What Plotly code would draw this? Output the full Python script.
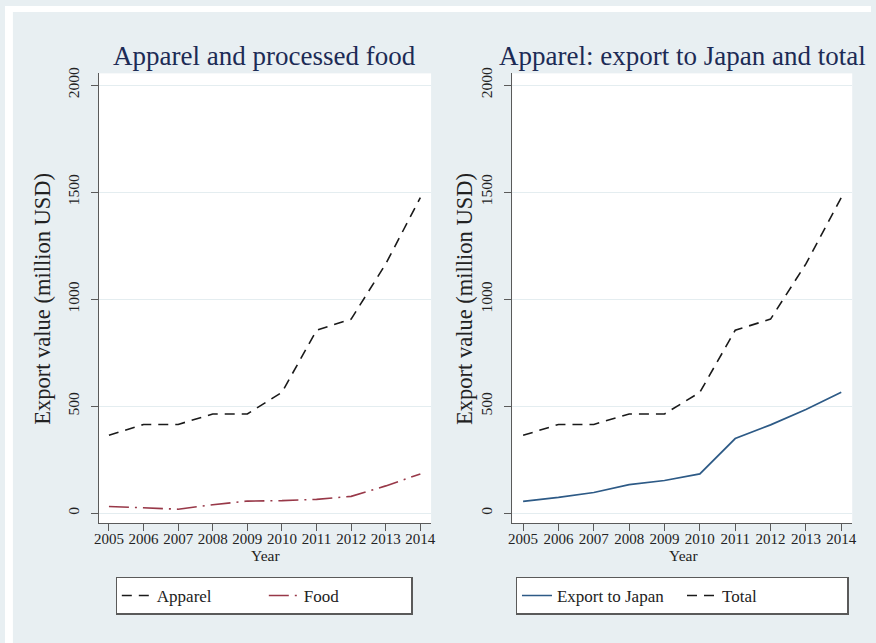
import plotly.graph_objects as go

years = [2005, 2006, 2007, 2008, 2009, 2010, 2011, 2012, 2013, 2014]
apparel = [364, 415, 415, 464, 464, 565, 855, 907, 1165, 1475]
food = [32, 25, 19, 40, 57, 59, 65, 79, 128, 184]
japan = [56, 74, 97, 134, 153, 184, 349, 413, 485, 565]
total = apparel

panel_titles = ["Apparel and processed food", "Apparel: export to Japan and total"]
y_title = "Export value (million USD)"
x_title = "Year"
y_ticks = [0, 500, 1000, 1500, 2000]

W, H = 876, 643
FONT = "Liberation Serif"
BG = "#e8eff2"
AX = "#5a5a5a"
TITLE_C = "#1c2b55"

fig = go.Figure()
fig.add_trace(go.Scatter(x=years, y=apparel, mode="lines", name="Apparel",
                         line=dict(color="#1a1a1a", width=1.6, dash="10px,7px"),
                         xaxis="x", yaxis="y", legend="legend"))
fig.add_trace(go.Scatter(x=years, y=food, mode="lines", name="Food",
                         line=dict(color="#983848", width=1.6, dash="20px,6px,2px,6px"),
                         xaxis="x", yaxis="y", legend="legend"))
fig.add_trace(go.Scatter(x=years, y=japan, mode="lines", name="Export to Japan",
                         line=dict(color="#2d5a86", width=1.7),
                         xaxis="x2", yaxis="y2", legend="legend2"))
fig.add_trace(go.Scatter(x=years, y=total, mode="lines", name="Total",
                         line=dict(color="#1a1a1a", width=1.6, dash="10px,7px"),
                         xaxis="x2", yaxis="y2", legend="legend2"))

def px_x(p):
    return p / W

def px_y(p):
    return 1 - p / H

ybot, ytop = px_y(522), px_y(68)

xcommon = dict(tickmode="array", tickvals=years, ticktext=[str(y) for y in years],
               showline=True, linecolor=AX, linewidth=1.3, ticks="outside",
               ticklen=7, tickcolor=AX, tickwidth=1.2, showgrid=False, zeroline=False,
               ticklabelstandoff=-5,
               tickfont=dict(family=FONT, size=15, color="#222"), fixedrange=True)
ycommon = dict(tickmode="array", tickvals=y_ticks, ticktext=[str(v) for v in y_ticks],
               range=[-46, 2055], showline=True, linecolor=AX, linewidth=1.3,
               ticks="outside", ticklen=7, tickcolor=AX, tickwidth=1.2,
               showgrid=True, gridcolor="#e4edf0", gridwidth=1, zeroline=False,
               ticklabelstandoff=6,
               tickangle=-90, tickfont=dict(family=FONT, size=15.5, color="#222"),
               fixedrange=True)

fig.update_layout(
    width=W, height=H,
    margin=dict(l=0, r=0, t=0, b=0),
    paper_bgcolor=BG, plot_bgcolor="white",
    font=dict(family=FONT, color="#222"),
    xaxis=dict(domain=[px_x(95), px_x(431)], range=[2004.71, 2014.31], anchor="y", **xcommon),
    yaxis=dict(domain=[ybot, ytop], anchor="x", **ycommon),
    xaxis2=dict(domain=[px_x(513), px_x(857)], range=[2004.69, 2014.31], anchor="y2", **xcommon),
    yaxis2=dict(domain=[ybot, ytop], anchor="x2", **ycommon),
    legend=dict(orientation="h", x=px_x(262), xanchor="center", y=px_y(576), yanchor="top",
                bgcolor="white", bordercolor=AX, borderwidth=1.3,
                font=dict(family=FONT, size=17, color="#222"),
                entrywidth=102, entrywidthmode="pixels"),
    legend2=dict(orientation="h", x=px_x(685), xanchor="center", y=px_y(576), yanchor="top",
                 bgcolor="white", bordercolor=AX, borderwidth=1.3,
                 font=dict(family=FONT, size=17, color="#222"),
                 entrywidth=120, entrywidthmode="pixels"),
    showlegend=True,
)

# white strips at the image border (outside the grey panel)
fig.add_shape(type="rect", xref="paper", yref="paper", x0=0, x1=1, y0=px_y(6), y1=1,
              fillcolor="white", line_width=0, layer="below")
fig.add_shape(type="rect", xref="paper", yref="paper", x0=0, x1=px_x(8), y0=0, y1=1,
              fillcolor="white", line_width=0, layer="below")

anns = []
for cx, t in zip([263, 685], panel_titles):
    anns.append(dict(text=t, x=px_x(cx), y=px_y(50), xref="paper", yref="paper",
                     xanchor="center", yanchor="middle", showarrow=False,
                     font=dict(family=FONT, size=27, color=TITLE_C)))
for cx in [38, 465]:
    anns.append(dict(text=y_title, x=px_x(cx), y=px_y(296), xref="paper", yref="paper",
                     xanchor="center", yanchor="middle", showarrow=False, textangle=-90,
                     font=dict(family=FONT, size=22.5, color="#222")))
for cx in [264, 686]:
    anns.append(dict(text=x_title, x=px_x(cx), y=px_y(555), xref="paper", yref="paper",
                     xanchor="center", yanchor="middle", showarrow=False,
                     font=dict(family=FONT, size=15.5, color="#222")))
fig.update_layout(annotations=anns)

fig.write_html("out.html")
